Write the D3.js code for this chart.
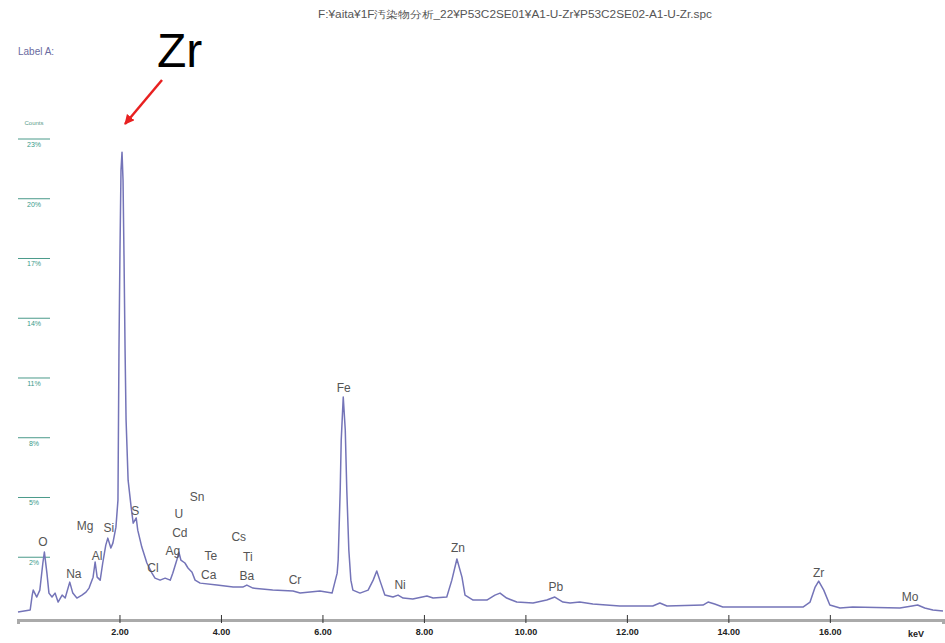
<!DOCTYPE html>
<html>
<head>
<meta charset="utf-8">
<script src="https://cdn.jsdelivr.net/npm/d3@7"></script>
<style>
  body { margin: 0; background: white; }
  text { font-family: "Liberation Sans", Arial, sans-serif; }
</style>
</head>
<body>
<div id="plot"></div>
<script>
// spectrum: energy (keV) and intensity (axis units)
const energy = [0.00, 0.24, 0.28, 0.30, 0.37, 0.43, 0.49, 0.52, 0.57, 0.61, 0.67, 0.73, 0.79, 0.87, 0.93,
  1.02, 1.08, 1.16, 1.26, 1.34, 1.40, 1.48, 1.52, 1.56, 1.62, 1.67, 1.73, 1.77, 1.83, 1.87, 1.93, 1.97,
  1.99, 2.01, 2.03, 2.05, 2.07, 2.09, 2.11, 2.13, 2.17, 2.23, 2.27, 2.33, 2.36, 2.44, 2.54, 2.64, 2.70,
  2.80, 2.90, 3.00, 3.05, 3.13, 3.17, 3.21, 3.29, 3.35, 3.43, 3.49, 3.59, 3.92, 4.24, 4.43, 4.51, 4.63,
  5.02, 5.42, 5.56, 5.95, 6.19, 6.29, 6.31, 6.35, 6.37, 6.41, 6.45, 6.48, 6.52, 6.56, 6.60, 6.74, 6.90,
  7.00, 7.07, 7.15, 7.23, 7.39, 7.49, 7.59, 7.78, 8.06, 8.18, 8.45, 8.55, 8.65, 8.75, 8.81, 8.97, 9.24,
  9.40, 9.50, 9.63, 9.83, 10.15, 10.42, 10.58, 10.74, 10.88, 11.07, 11.33, 11.86, 12.51, 12.65, 12.79,
  13.50, 13.60, 13.73, 13.89, 15.47, 15.61, 15.71, 15.78, 15.88, 16.00, 16.20, 16.45, 17.38, 17.62,
  17.73, 17.87, 18.03, 18.23];
const intensity = [-0.75, -0.65, 0.10, 0.35, 0.00, 0.35, 1.71, 2.26, 1.20, 0.20, 0.00, 0.20, -0.25, 0.10, -0.05,
  0.75, 0.20, -0.05, 0.10, 0.25, 0.45, 1.00, 1.76, 1.00, 0.85, 1.71, 2.61, 2.96, 2.46, 2.71, 3.51, 4.87,
  12.40, 17.42, 21.44, 22.34, 20.93, 16.92, 12.40, 8.89, 5.87, 4.52, 3.71, 3.97, 3.36, 2.51, 1.71, 1.20, 0.95,
  0.85, 0.95, 0.85, 1.20, 1.86, 2.26, 1.86, 1.71, 1.46, 1.25, 0.85, 0.70, 0.60, 0.50, 0.50, 0.60, 0.45,
  0.35, 0.30, 0.20, 0.30, 0.20, 1.20, 1.86, 5.37, 7.88, 10.04, 8.38, 5.37, 2.36, 0.85, 0.35, 0.20, 0.35,
  0.85, 1.31, 0.70, 0.10, 0.00, 0.10, -0.05, -0.10, 0.05, -0.05, 0.00, 0.85, 1.91, 1.00, 0.10, -0.15, -0.15,
  0.10, 0.20, -0.05, -0.25, -0.30, -0.15, 0.00, -0.25, -0.30, -0.25, -0.35, -0.45, -0.45, -0.30, -0.45,
  -0.40, -0.25, -0.35, -0.50, -0.50, -0.25, 0.50, 0.80, 0.35, -0.40, -0.55, -0.50, -0.55, -0.45,
  -0.40, -0.55, -0.65, -0.70];

// element labels: name, energy, intensity where the label sits
const elements = ["O", "Na", "Mg", "Al", "Si", "S", "Cl", "Ag", "U", "Cd", "Sn", "Te", "Ca", "Cs", "Ti", "Ba",
  "Cr", "Fe", "Ni", "Zn", "Pb", "Zr", "Mo"];
const elemEnergy = [0.49, 1.10, 1.32, 1.56, 1.79, 2.31, 2.66, 3.05, 3.17, 3.19, 3.53, 3.80, 3.76, 4.35, 4.53, 4.51,
  5.46, 6.42, 7.53, 8.67, 10.60, 15.78, 17.58];
const elemLabelY = [2.56, 0.95, 3.36, 1.86, 3.26, 4.12, 1.25, 2.10, 3.97, 3.01, 4.82, 1.86, 0.90, 2.81, 1.81, 0.85,
  0.65, 10.31, 0.40, 2.26, 0.30, 1.00, -0.20];

// y ticks
const yTickValues = [23, 20, 17, 14, 11, 8, 5, 2];
const yTickLabels = ["23%", "20%", "17%", "14%", "11%", "8%", "5%", "2%"];
const xTickValues = [2, 4, 6, 8, 10, 12, 14, 16];

const svg = d3.select("div#plot")
              .append("svg")
              .attr("width", 945)
              .attr("height", 643)
              .style("background-color", "white");

const xScale = d3.scaleLinear().domain([0, 18.23]).range([18, 943]);
const yScale = d3.scaleLinear().domain([-0.8, 23]).range([613, 139]);

// header texts
svg.append("text")
   .attr("x", 318)
   .attr("y", 18)
   .attr("textLength", 394)
   .attr("lengthAdjust", "spacingAndGlyphs")
   .attr("font-size", "10px")
   .attr("fill", "#555")
   .text("F:¥aita¥1F汚染物分析_22¥P53C2SE01¥A1-U-Zr¥P53C2SE02-A1-U-Zr.spc");
svg.append("text")
   .attr("x", 18)
   .attr("y", 55)
   .attr("font-size", "10px")
   .attr("fill", "#6a6aa0")
   .text("Label A:");

// y "axis": short lines with labels under them
svg.append("text")
   .attr("x", 34)
   .attr("y", 125)
   .attr("text-anchor", "middle")
   .attr("font-size", "6px")
   .attr("fill", "#5a9a8a")
   .text("Counts");
svg.selectAll("line.ytick")
   .data(yTickValues)
   .enter()
   .append("line")
   .attr("class", "ytick")
   .attr("x1", 18)
   .attr("x2", 50)
   .attr("y1", d => yScale(d))
   .attr("y2", d => yScale(d))
   .attr("stroke", "#4a9a8a")
   .attr("stroke-width", 1);
svg.selectAll("text.ytick")
   .data(yTickValues)
   .enter()
   .append("text")
   .attr("class", "ytick")
   .attr("x", 34)
   .attr("y", d => yScale(d) + 8)
   .attr("text-anchor", "middle")
   .attr("font-size", "7px")
   .attr("fill", "#3a9a8a")
   .text((d, i) => yTickLabels[i]);

// x-axis
const xAxis = d3.axisBottom(xScale)
                .tickValues(xTickValues)
                .tickSize(4)
                .tickFormat(d3.format(".2f"));
const gx = svg.append("g")
   .attr("class", "x-axis")
   .attr("transform", "translate(0, 620)")
   .call(xAxis);
gx.select(".domain").attr("stroke", "#aaa").attr("stroke-width", 3);
gx.selectAll(".tick line").attr("stroke", "#333").attr("y1", -5).attr("y2", 3);
gx.selectAll(".tick text")
  .attr("fill", "#222")
  .attr("font-size", "9px")
  .attr("font-weight", "bold")
  .attr("dy", "0.9em");
svg.append("text")
   .attr("x", 916)
   .attr("y", 637)
   .attr("text-anchor", "middle")
   .attr("font-size", "9px")
   .attr("font-weight", "bold")
   .attr("fill", "#222")
   .text("keV");

// spectrum
const line = d3.line()
               .x((d, i) => xScale(energy[i]))
               .y((d, i) => yScale(intensity[i]));
svg.append("path")
   .datum(intensity)
   .attr("d", line)
   .attr("fill", "none")
   .attr("stroke", "#7474b8")
   .attr("stroke-width", 1.5)
   .attr("stroke-linejoin", "round");

// element labels
svg.selectAll("text.elem")
   .data(elements)
   .enter()
   .append("text")
   .attr("class", "elem")
   .attr("x", (d, i) => xScale(elemEnergy[i]))
   .attr("y", (d, i) => yScale(elemLabelY[i]))
   .attr("text-anchor", "middle")
   .attr("font-size", "12px")
   .attr("fill", "#555")
   .text(d => d);

// big annotation with red arrow
svg.append("defs").append("marker")
   .attr("id", "arrow")
   .attr("viewBox", "0 0 10 10")
   .attr("refX", 9)
   .attr("refY", 5)
   .attr("markerWidth", 4)
   .attr("markerHeight", 4)
   .attr("orient", "auto")
   .append("path")
   .attr("d", "M0,0 L10,5 L0,10 z")
   .attr("fill", "#e82020");
svg.append("line")
   .attr("x1", 162)
   .attr("y1", 80)
   .attr("x2", 125)
   .attr("y2", 124)
   .attr("stroke", "#e82020")
   .attr("stroke-width", 2.5)
   .attr("marker-end", "url(#arrow)");
svg.append("text")
   .attr("x", 157)
   .attr("y", 67)
   .attr("font-size", "48px")
   .attr("fill", "#000")
   .text("Zr");
</script>
</body>
</html>
